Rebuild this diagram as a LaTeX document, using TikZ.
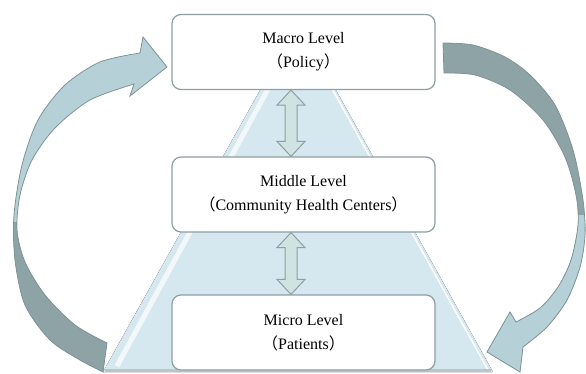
\documentclass[tikz,border=0pt]{standalone}
\usepackage{fontspec}
\setmainfont{Liberation Serif}
\newfontfamily\cjk{Noto Sans CJK SC}
\usetikzlibrary{calc}

\definecolor{boxline}{HTML}{8E9EA3}
\definecolor{pyramidblue}{HTML}{BCD6E1}
\definecolor{pyramidlight}{HTML}{D6E8EF}
\definecolor{swooshlight}{HTML}{B6D0D7}
\definecolor{swooshdark}{HTML}{8EA3A6}
\definecolor{swooshline}{HTML}{7D9497}
\definecolor{twinfill}{HTML}{CFE3E3}

\newcommand{\bopen}{\kern-8pt{\cjk （}}
\newcommand{\bclose}{{\cjk ）}\kern-8pt}

\begin{document}
\begin{tikzpicture}[x=1pt, y=-1pt,
    level/.style={draw=boxline, line width=1.2pt, fill=white, rounded corners=9pt,
        minimum width=263pt, minimum height=75pt, align=center,
        font=\fontsize{16}{24}\selectfont},
    twin/.style={draw=boxline, line width=1pt, fill=twinfill},
    swoosh/.style={draw=swooshline, line width=0.8pt},
    left swoosh/.style={insert path={plot[smooth] coordinates {(103,372) (80,360) (50,340) (25,305) (15,260) (14,215) (22,165) (38,120) (65,85) (100,62) (140,53)}
        -- (143,37) -- (167,67) -- (130,96) -- (134,84)
        -- plot[smooth] coordinates {(134,84) (90,100) (55,128) (32,160) (20,195) (17,230) (25,262) (45,295) (75,325) (107,343)} -- cycle}},
    right swoosh/.style={insert path={plot[smooth] coordinates {(443,43) (473,45) (505,57) (530,75) (555,105) (573,150) (583,200) (585,235) (580,267) (567,300) (547,327) (523,347)}
        -- (520,372) -- (487,352) -- (510,312) -- (516,322)
        -- plot[smooth] coordinates {(516,322) (540,308) (558,287) (571,260) (578,225) (576,195) (565,157) (543,120) (510,90) (475,75) (444,73)} -- cycle}}]

    \useasboundingbox (0,0) rectangle (586,373);

    % Pyramid behind the levels
    \coordinate (apex) at (298,22);
    \coordinate (baseL) at (103,372);
    \coordinate (baseR) at (493,372);
    \fill[left color=pyramidlight, middle color=pyramidblue, right color=pyramidlight] (apex) -- (baseL) -- (baseR) -- cycle;
    \draw[white, line width=5pt, opacity=0.7] ($(apex)!0.1!(baseL)+(7,0)$) -- ($(baseL)+(14,-6)$);
    \draw[white, line width=1.5pt] ($(apex)!0.1!(baseR)+(-3,0)$) -- ($(baseR)+(-5,-2)$);
    \draw[boxline!60, line width=3pt] ($(baseL)+(2,-1.5)$) -- ($(baseR)+(-2,-1.5)$);

    % Feedback arrows
    \fill[swooshlight, left swoosh];
    \begin{scope}
        \clip (0,222) rectangle (300,373);
        \fill[swooshdark, left swoosh];
    \end{scope}
    \path[swoosh, left swoosh];

    \fill[swooshdark, right swoosh];
    \begin{scope}
        \clip (300,215) rectangle (586,373);
        \fill[swooshlight, right swoosh];
    \end{scope}
    \path[swoosh, right swoosh];

    % Levels
    \node[level] (macro) at (303.5,52) {Macro Level\\\bopen Policy\bclose};
    \node[level] (middle) at (303.5,194.5) {Middle Level\\\bopen Community Health Centers\bclose};
    \node[level] (micro) at (303.5,332.5) {Micro Level\\\bopen Patients\bclose};

    % Double arrows between levels
    \coordinate (u1) at ($(macro.south)+(-12.5,0)$);
    \coordinate (u2) at ($(middle.north)+(-12.5,0)$);
    \coordinate (d1) at ($(middle.south)+(-12.5,0)$);
    \coordinate (d2) at ($(micro.north)+(-12.5,0)$);
    \draw[twin] (u1) -- ++(14,15) -- ++(-8,0) -- ($(u2)+(6,-15)$) -- ++(8,0) -- (u2)
        -- ++(-14,-15) -- ++(8,0) -- ($(u1)+(-6,15)$) -- ++(-8,0) -- cycle;
    \draw[twin] (d1) -- ++(14,15) -- ++(-8,0) -- ($(d2)+(6,-15)$) -- ++(8,0) -- (d2)
        -- ++(-14,-15) -- ++(8,0) -- ($(d1)+(-6,15)$) -- ++(-8,0) -- cycle;

\end{tikzpicture}
\end{document}
